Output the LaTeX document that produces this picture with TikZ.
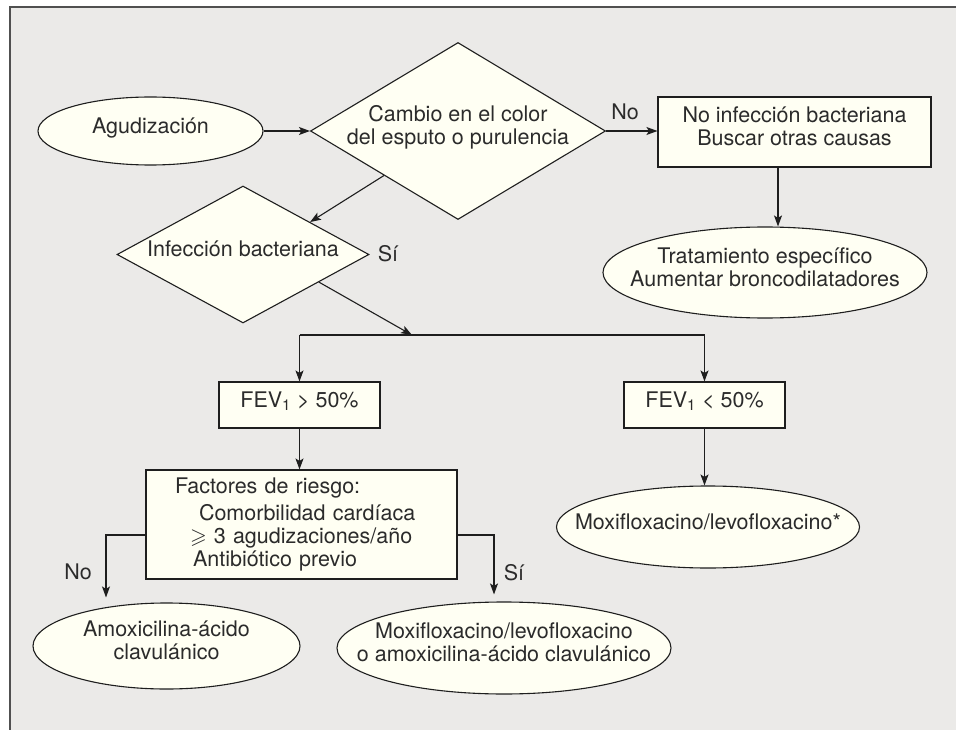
\documentclass[tikz,border=0pt]{standalone}
\usepackage{amssymb}
\usepackage{fontspec}
\setmainfont{TeX Gyre Heros}
\usetikzlibrary{shapes.geometric,arrows.meta,calc}
\definecolor{bg}{HTML}{EBEAE8}
\definecolor{nfill}{HTML}{FFFFF3}
\definecolor{ink}{HTML}{1E1E1E}
\definecolor{txtc}{HTML}{2B2B2B}
\definecolor{framec}{HTML}{505050}
\newcommand\zb[1]{\makebox[0pt]{\raisebox{-5.5pt}{\smash{\begin{tabular}{@{}c@{}}#1\end{tabular}}}}}
\begin{document}
\begin{tikzpicture}[x=1pt,y=-1pt,
  every node/.style={font=\fontsize{21.5}{23}\selectfont, text=txtc},
  shp/.style={draw=ink, line width=1.1pt, fill=nfill, inner sep=0pt},
  flowbox/.style={shp, rectangle},
  oval/.style={shp, ellipse},
  dia/.style={shp, diamond},
  lbl/.style={inner sep=0pt},
  arr/.style={draw=ink, line width=1.1pt, -{Stealth[length=11pt,width=8pt,inset=2.5pt]}},
  ln/.style={draw=ink, line width=1.1pt}]
\useasboundingbox (0,0) rectangle (956,730);
\fill[bg] (10,7) rectangle (956,730);
\draw[framec, line width=1.6pt] (10,730) -- (10,7) -- (956,7);

% nodes
\node[oval, minimum width=225pt, minimum height=68pt] (agu) at (150.5,131) {\zb{Agudización}};
\node[dia, minimum width=295pt, minimum height=177pt] (d1) at (458,131) {\zb{Cambio en el color\\del esputo o purulencia}};
\node[flowbox, minimum width=273pt, minimum height=70pt] (nobox) at (794.5,132) {\zb{No infección bacteriana\\Buscar otras causas}};
\node[oval, minimum width=324pt, minimum height=91pt] (trat) at (765,272.5) {\zb{Tratamiento específico\\Aumentar broncodilatadores}};
\node[dia, minimum width=252pt, minimum height=137pt] (d2) at (243,254.5) {\zb{Infección bacteriana}};
\node[flowbox, minimum width=161pt, minimum height=46pt] (fev1) at (299.5,405) {\zb{FEV\textsubscript{1} > 50\%}};
\node[flowbox, minimum width=161pt, minimum height=46pt] (fev2) at (704.5,405) {\zb{FEV\textsubscript{1} < 50\%}};
\node[flowbox, minimum height=109pt, text width=253pt, inner xsep=29pt, inner ysep=0pt, align=left] (fact) at (301.5,524.5)
  {Factores de riesgo:\\[4pt]
   \hspace*{24pt}Comorbilidad cardíaca\\
   \hspace*{15pt}$\geqslant$ 3 agudizaciones/año\\
   \hspace*{18pt}Antibiótico previo};
\node[oval, minimum width=303pt, minimum height=82pt] (moxi2) at (708,527) {\zb{Moxifloxacino/levofloxacino*}};
\node[oval, minimum width=267pt, minimum height=86pt] (amox) at (166.5,646) {\zb{Amoxicilina-ácido\\clavulánico}};
\node[oval, minimum width=334pt, minimum height=92pt] (moxi1) at (504,648) {\zb{Moxifloxacino/levofloxacino\\o amoxicilina-ácido clavulánico}};

% labels
\node[lbl] (lno1) at (625,112) {No};
\node[lbl] (lsi1) at (388,254) {Sí};
\node[lbl] (lno2) at (78,572) {No};
\node[lbl] (lsi2) at (514,573) {Sí};

% helper coordinates
\coordinate (xa) at (778,0);
\coordinate (sp) at (412,335);
\coordinate (fl) at (106,535);
\coordinate (fr) at (494,535);

% connectors
\draw[arr] (agu.east) -- (d1.west);
\draw[arr] (d1.east) -- (nobox.west |- d1.east);
\draw[arr] (nobox.south -| xa) -- (trat.north -| xa);
\draw[arr] ($(d1.west)!0.5!(d1.south)$) -- ($(d2.north)!0.53!(d2.east)$);
\draw[arr] ($(d2.east)!0.4!(d2.south)$) -- (sp);
\draw[ln] (fev1.north |- sp) -- (fev2.north |- sp);
\draw[arr] (fev1.north |- sp) -- (fev1.north);
\draw[arr] (fev2.north |- sp) -- (fev2.north);
\draw[arr] (fev1.south) -- (fev1.south |- fact.north);
\draw[arr] (fev2.south) -- (fev2.south |- moxi2.north);
\draw[arr, shorten >=5pt] (fact.west |- fl) -- (fl) -- (fl |- amox.north);
\draw[arr, shorten >=7pt] (fact.east |- fr) -- (fr) -- (fr |- moxi1.north);
\end{tikzpicture}
\end{document}
